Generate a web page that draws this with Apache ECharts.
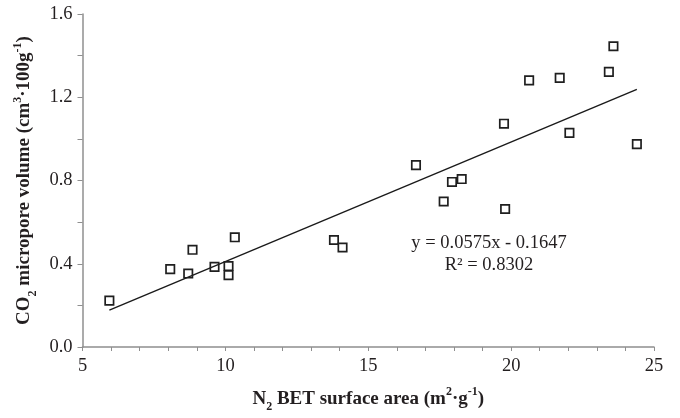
<!DOCTYPE html>
<html>
<head>
<meta charset="utf-8">
<script src="https://cdn.jsdelivr.net/npm/echarts@6/dist/echarts.min.js"></script>
<style>html,body{margin:0;padding:0;background:#fff;}#c{width:680px;height:418px;}</style>
</head>
<body>
<div id="c"></div>
<script>
// Data
const bet = [5.94, 8.07, 8.85, 8.70, 9.62, 10.11, 10.11, 10.33, 13.80, 14.10, 16.67, 17.64, 17.93, 18.27, 19.75, 19.79, 20.63, 21.70, 22.04, 23.42, 23.58, 24.40];
const co2 = [0.223, 0.374, 0.467, 0.353, 0.385, 0.389, 0.345, 0.527, 0.514, 0.478, 0.874, 0.699, 0.793, 0.807, 1.073, 0.663, 1.281, 1.293, 1.029, 1.322, 1.445, 0.975];
const slope = 0.0575;
const intercept = -0.1647;
const r2 = 0.8302;
const xTicks = [5, 10, 15, 20, 25];
const yTicks = [0.0, 0.4, 0.8, 1.2, 1.6];

const pts = bet.map((x, i) => [x, co2[i]]);
const xMin = Math.min(...bet), xMax = Math.max(...bet);
const trend = [[xMin, slope * xMin + intercept], [xMax, slope * xMax + intercept]];

const serif = '"Liberation Serif", "DejaVu Serif", serif';
const txt = '#231f20';
const axisGray = '#8f8f8f';

const chart = echarts.init(document.getElementById('c'), null, {renderer: 'canvas'});
const richBase = {
  n: {fontFamily: serif, fontWeight: 'bold', fontSize: 19, color: txt, lineHeight: 22, verticalAlign: 'middle'},
  sub: {fontFamily: serif, fontWeight: 'bold', fontSize: 12, color: txt, lineHeight: 22, verticalAlign: 'bottom', padding: [0, 0, -3, 0]},
  sup: {fontFamily: serif, fontWeight: 'bold', fontSize: 12, color: txt, lineHeight: 22, verticalAlign: 'top', padding: [-2, 0, 0, 0]}
};
chart.setOption({
  animation: false,
  grid: {left: 82.5, right: 26, top: 14, bottom: 67},
  xAxis: {
    type: 'value', min: xTicks[0], max: xTicks[xTicks.length - 1], interval: 5,
    name: '{n|N}{sub|2}{n| BET surface area (m}{sup|2}{n|·g}{sup|-1}{n|)}',
    nameLocation: 'middle', nameGap: 41,
    nameTextStyle: {rich: richBase},
    axisLine: {show: true, lineStyle: {color: axisGray, width: 1.5}},
    axisTick: {show: true, length: 4, lineStyle: {color: axisGray, width: 1}},
    minorTick: {show: true, splitNumber: 5, length: 4, lineStyle: {color: axisGray, width: 1}},
    splitLine: {show: false},
    axisLabel: {fontFamily: serif, fontSize: 18.5, color: txt, margin: 10,
      formatter: v => xTicks.includes(v) ? String(v) : ''}
  },
  yAxis: {
    type: 'value', min: yTicks[0], max: yTicks[yTicks.length - 1], interval: 0.4,
    name: '{n|CO}{sub|2}{n| micropore volume (cm}{sup|3}{n|·100g}{sup|-1}{n|)}',
    nameLocation: 'middle', nameGap: 44,
    nameTextStyle: {rich: richBase},
    axisLine: {show: true, lineStyle: {color: axisGray, width: 1.5}},
    axisTick: {show: true, length: 5, lineStyle: {color: axisGray, width: 1}},
    minorTick: {show: true, splitNumber: 2, length: 5, lineStyle: {color: axisGray, width: 1}},
    splitLine: {show: false},
    axisLabel: {fontFamily: serif, fontSize: 18.5, color: txt, margin: 10,
      formatter: v => v.toFixed(1)}
  },
  series: [
    {
      type: 'line', data: trend, symbol: 'none', silent: true,
      lineStyle: {color: '#1a1a1a', width: 1.4}, z: 2
    },
    {
      type: 'scatter', data: pts, symbol: 'rect', symbolSize: 8.4,
      itemStyle: {color: 'rgba(255,255,255,0)', borderColor: '#1f1f1f', borderWidth: 1.7, opacity: 1},
      z: 3
    }
  ],
  graphic: [
    {type: 'text', x: 489, y: 243, style: {text: 'y = ' + slope.toFixed(4) + 'x - ' + Math.abs(intercept).toFixed(4),
      fontFamily: serif, fontSize: 18.5, fill: txt, align: 'center', verticalAlign: 'middle'}},
    {type: 'text', x: 489, y: 265, style: {text: 'R² = ' + r2.toFixed(4),
      fontFamily: serif, fontSize: 18.5, fill: txt, align: 'center', verticalAlign: 'middle'}}
  ]
});
</script>
</body>
</html>
